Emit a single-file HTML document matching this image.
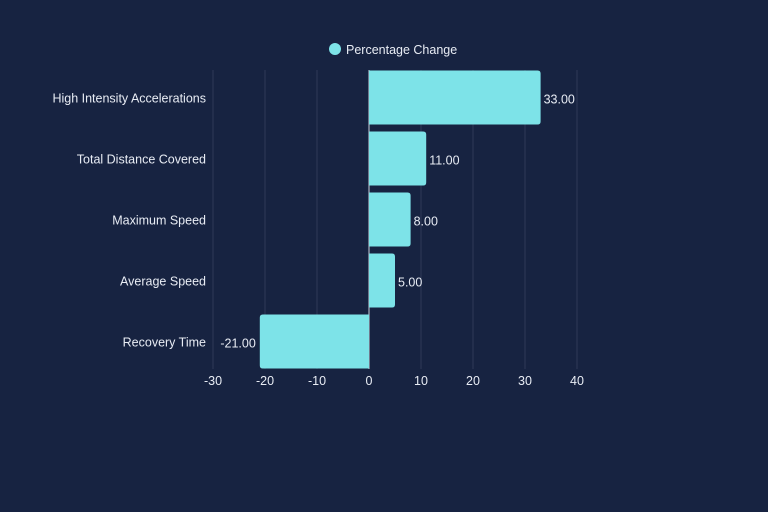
<!DOCTYPE html>
<html><head><meta charset="utf-8"><style>
html,body{margin:0;padding:0;background:#172341;}
svg{display:block;font-family:"Liberation Sans",sans-serif;}
</style></head><body>
<svg id="chart" width="768" height="512">
<rect width="768" height="512" fill="#172341"/>
<g>
<circle cx="335" cy="49" r="6" fill="#7de3e8"/>
<text x="346" y="54" fill="#e8ecf4" font-size="12.5">Percentage Change</text>
</g>
<g id="grid"></g><g id="bars"></g><g id="labels"></g>
</svg>
<script>
const categories=["High Intensity Accelerations","Total Distance Covered","Maximum Speed","Average Speed","Recovery Time"];
const values=[33,11,8,5,-21];
const ticks=[-30,-20,-10,0,10,20,30,40];
const NS="http://www.w3.org/2000/svg";
const x0=369,unit=5.2,plotTop=67,band=61,bh=54;
const x=v=>x0+v*unit;
const y=i=>plotTop+i*band+band/2;
function mk(t,a,p){const e=document.createElementNS(NS,t);for(const k in a)e.setAttribute(k,a[k]);p.appendChild(e);return e;}
const grid=document.getElementById('grid'),bars=document.getElementById('bars'),labels=document.getElementById('labels');
ticks.forEach(t=>{
const l=mk('line',{x1:x(t),x2:x(t),y1:70,y2:369,stroke:t===0?'#c9d0dc':'#2f3a56','stroke-width':1},grid);


const tx=mk('text',{x:x(t),y:385,'text-anchor':'middle',fill:'#e8ecf4','font-size':12.5},labels);
tx.textContent=t;


});
categories.forEach((c,i)=>{
const v=values[i],cy=y(i),r=3;
const xa=x(0),xb=x(v),y1=cy-bh/2,y2=cy+bh/2;
let d;
if(v>=0)d=`M${xa},${y1}H${xb-r}Q${xb},${y1} ${xb},${y1+r}V${y2-r}Q${xb},${y2} ${xb-r},${y2}H${xa}Z`;
else d=`M${xa},${y1}H${xb+r}Q${xb},${y1} ${xb},${y1+r}V${y2-r}Q${xb},${y2} ${xb+r},${y2}H${xa}Z`;
const b=mk('path',{d:d,fill:'#7de3e8'},bars);


const cl=mk('text',{x:206,y:cy+5,'text-anchor':'end',fill:'#e8ecf4','font-size':12.5},labels);
cl.textContent=c;


const vl=mk('text',{x:v>=0?xb+3:xb-4,y:cy+6,'text-anchor':v>=0?'start':'end',fill:'#e8ecf4','font-size':12.5},labels);
vl.textContent=v.toFixed(2);


});
</script>
</body></html>
